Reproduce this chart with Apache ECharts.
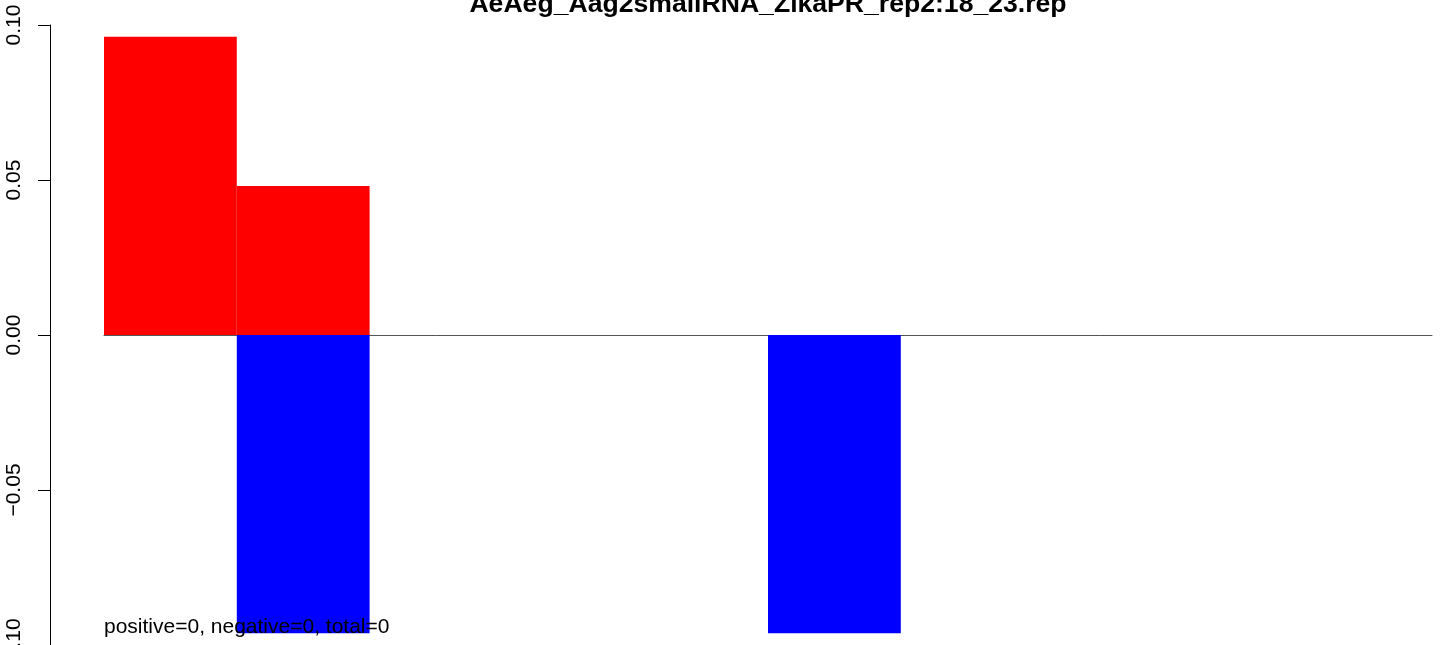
<!DOCTYPE html>
<html>
<head>
<meta charset="utf-8">
<script src="https://cdn.jsdelivr.net/npm/echarts@6/dist/echarts.min.js"></script>
<style>
html,body{margin:0;padding:0;background:#fff;}
#chart{width:1444px;height:645px;}
</style>
</head>
<body>
<div id="chart"></div>
<script>
var titleText = 'AeAeg_Aag2smallRNA_ZikaPR_rep2:18_23.rep';
var noteText = 'positive=0, negative=0, total=0';
var categories = ['1','2','3','4','5','6','7','8','9','10'];
var positiveValues = [0.0962, 0.0481, 0, 0, 0, 0, 0, 0, 0, 0];
var negativeValues = [0, -0.0962, 0, 0, 0, -0.0962, 0, 0, 0, 0];
var yTicks = [-0.10, -0.05, 0.00, 0.05, 0.10];
var yTickLabels = ['\u22120.10', '\u22120.05', '0.00', '0.05', '0.10'];

var FONT = '"Liberation Sans", Arial, Helvetica, sans-serif';
var chart = echarts.init(document.getElementById('chart'), null, {renderer: 'canvas'});

function tickLabel(v) {
  for (var i = 0; i < yTicks.length; i++) {
    if (Math.abs(yTicks[i] - v) < 1e-9) return yTickLabels[i];
  }
  return '';
}

chart.setOption({
  animation: false,
  backgroundColor: '#ffffff',
  grid: {left: 104, width: 1328, top: 25, height: 620, containLabel: false, outerBoundsMode: 'none'},
  graphic: [
    {
      type: 'text', x: 768, y: 4.5, z: 100,
      style: {text: titleText, font: 'bold 26.6px ' + FONT, fill: '#000', textAlign: 'center', textVerticalAlign: 'middle'}
    },
    {
      type: 'text', x: 104, y: 627.5, z: 100,
      style: {text: noteText, font: '21px ' + FONT, fill: '#000', textAlign: 'left', textVerticalAlign: 'middle'}
    }
  ],
  xAxis: {
    type: 'category',
    data: categories,
    boundaryGap: true,
    axisLine: {show: true, onZero: true, lineStyle: {color: '#555555', width: 1}},
    axisTick: {show: false},
    axisLabel: {show: false},
    splitLine: {show: false}
  },
  yAxis: {
    type: 'value',
    min: -0.10,
    max: 0.10,
    interval: 0.05,
    offset: 54,
    axisLine: {show: true, lineStyle: {color: '#000', width: 1}},
    axisTick: {show: true, length: 12, inside: false, lineStyle: {color: '#000', width: 1}},
    axisLabel: {
      show: true, rotate: 90, margin: 25, color: '#000',
      fontFamily: FONT, fontSize: 21,
      formatter: tickLabel,
      showMinLabel: true, showMaxLabel: true
    },
    splitLine: {show: false}
  },
  series: [
    {
      name: 'positive', type: 'bar', data: positiveValues,
      barCategoryGap: '0%', barGap: '-100%',
      itemStyle: {color: '#ff0000'}, z: 2
    },
    {
      name: 'negative', type: 'bar', data: negativeValues,
      barCategoryGap: '0%', barGap: '-100%',
      itemStyle: {color: '#0000ff'}, z: 2
    }
  ]
});
</script>
</body>
</html>
